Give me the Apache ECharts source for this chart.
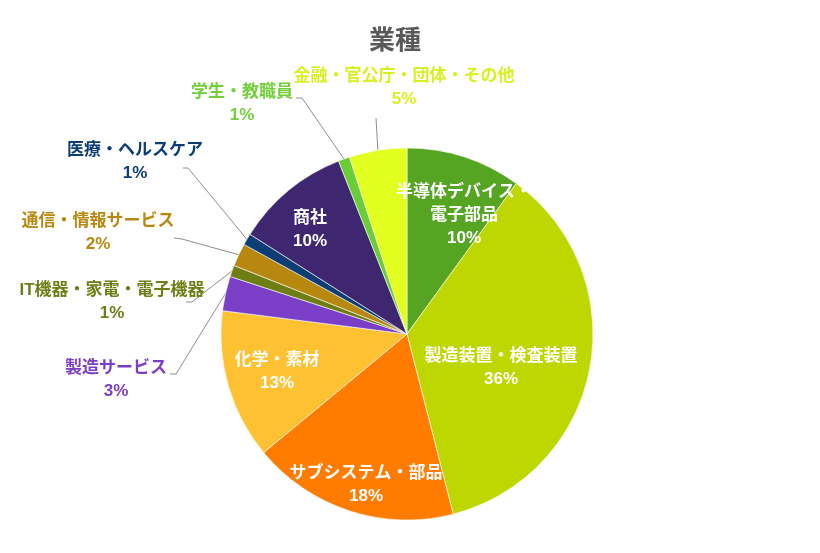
<!DOCTYPE html>
<html>
<head>
<meta charset="utf-8">
<script src="https://cdn.jsdelivr.net/npm/echarts@6/dist/echarts.min.js"></script>
<style>
html,body{margin:0;padding:0;background:#fff;}
#chart{width:820px;height:553px;}
</style>
</head>
<body>
<div id="chart"></div>
<script>
// ---- data ----
const titleText = '業種';
const categories = ['半導体デバイス・電子部品','製造装置・検査装置','サブシステム・部品','化学・素材','製造サービス','IT機器・家電・電子機器','通信・情報サービス','医療・ヘルスケア','商社','学生・教職員','金融・官公庁・団体・その他'];
const labelNames = ['半導体デバイス・\n電子部品','製造装置・検査装置','サブシステム・部品','化学・素材','製造サービス','IT機器・家電・電子機器','通信・情報サービス','医療・ヘルスケア','商社','学生・教職員','金融・官公庁・団体・その他'];
const values = [10, 36, 18, 13, 3, 1, 2, 1, 10, 1, 5];

// ---- style ----
const colors = ['#55a523','#bfd700','#ff7c00','#fec132','#7a3fc6','#6e7d14','#b8880e','#0d3d75','#3e2670','#6acd35','#e3ff1f'];
const labelColors = ['#fff','#fff','#fff','#fff','#7a3fc6','#6e7d14','#b8880e','#0d3d75','#fff','#72cf3a','#d8f022'];
const inside = [true,true,true,true,false,false,false,false,true,false,false];
const labelPos = [
  {x:464, y:215},
  {x:501, y:368},
  {x:366, y:485},
  {x:277, y:372},
  {x:116, y:380, bend:[176,374], end:[170,374]},
  {x:112, y:302, bend:[192,302], end:[186,302]},
  {x:98,  y:233, bend:[182,239], end:[174,238]},
  {x:135, y:162, bend:[188,168], end:[183,168]},
  {x:310, y:230},
  {x:242, y:104, bend:[302,98], end:[296,98]},
  {x:404, y:88,  end:[376,118]}
];

const data = categories.map((c, i) => ({
  name: c,
  value: values[i],
  itemStyle: {color: colors[i]},
  label: {
    position: inside[i] ? 'inside' : 'outside',
    color: labelColors[i]
  },
  labelLine: {show: !inside[i]}
}));

const chart = echarts.init(document.getElementById('chart'), null, {renderer: 'canvas'});
chart.setOption({
  animation: false,
  backgroundColor: '#fff',
  title: {
    text: titleText,
    left: 364,
    top: 21,
    textStyle: {fontSize: 26, fontWeight: 'bold', color: '#595959', fontFamily: 'Noto Sans CJK JP'}
  },
  series: [{
    type: 'pie',
    center: [407, 334],
    radius: 186,
    startAngle: 90,
    clockwise: true,
    percentPrecision: 0,
    avoidLabelOverlap: false,
    data: data,
    itemStyle: {borderColor: '#ffffff', borderWidth: 0.6},
    label: {
      show: true,
      formatter: p => labelNames[p.dataIndex] + '\n' + p.percent + '%',
      fontSize: 17,
      fontWeight: 'bold',
      lineHeight: 23,
      align: 'center',
      fontFamily: '"Liberation Sans", "Noto Sans CJK JP", sans-serif'
    },
    labelLine: {
      show: true,
      length: 20,
      length2: 10,
      lineStyle: {color: '#8e8e8e', width: 1}
    },
    labelLayout: function (params) {
      const p = labelPos[params.dataIndex];
      if (!p) return {};
      const out = {x: p.x, y: p.y, align: 'center', verticalAlign: 'middle'};
      if (!inside[params.dataIndex] && params.labelLinePoints) {
        const start = params.labelLinePoints[0];
        const pts = [start];
        if (p.bend) pts.push(p.bend);
        pts.push(p.end);
        if (pts.length === 2) pts.push(p.end);
        out.labelLinePoints = pts;
      }
      return out;
    }
  }]
});
</script>
</body>
</html>
